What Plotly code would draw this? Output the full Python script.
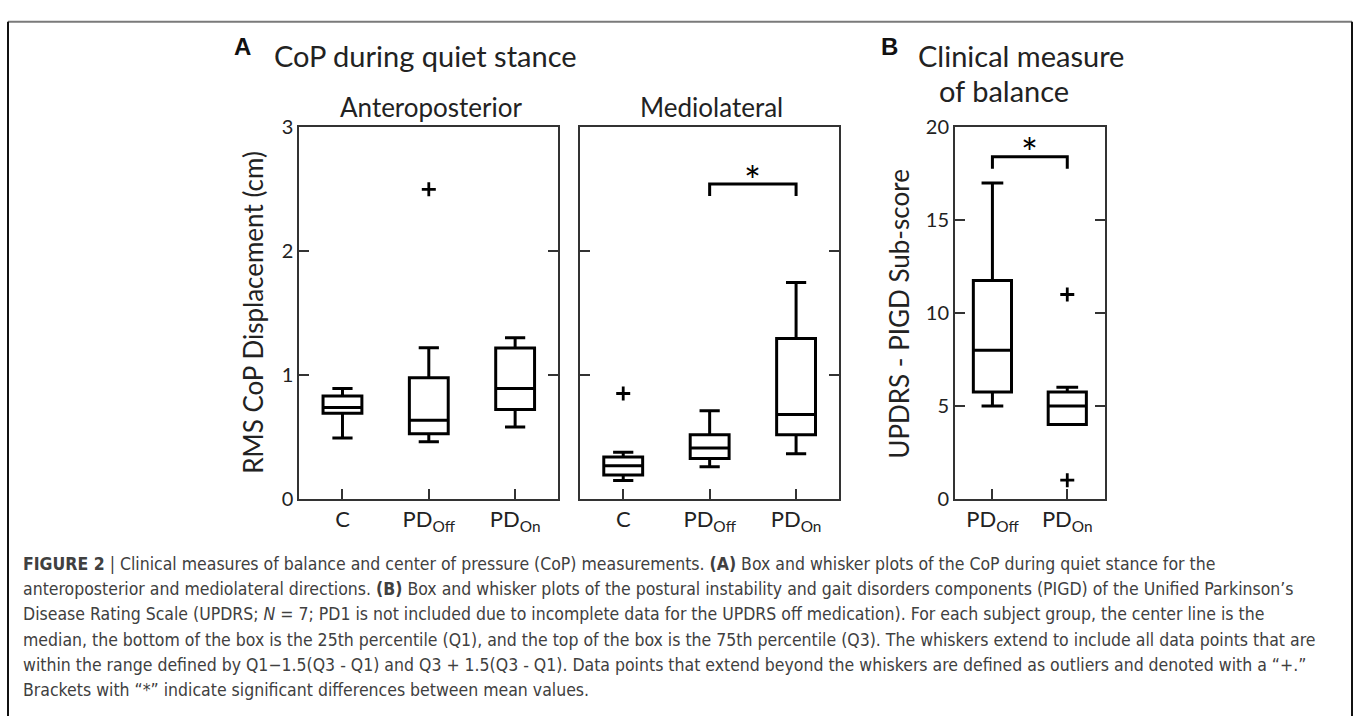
import plotly.graph_objects as go

# ---------------- data ----------------
# Panel A: RMS CoP displacement (cm), quiet stance
groups_a = [1, 2, 3]
group_labels_a = ["C", "PD<sub>Off</sub>", "PD<sub>On</sub>"]

ap_lower = [0.49, 0.46, 0.58]
ap_q1 = [0.69, 0.525, 0.72]
ap_median = [0.737, 0.634, 0.89]
ap_q3 = [0.83, 0.977, 1.218]
ap_upper = [0.89, 1.22, 1.30]
ap_outlier_x = [2]
ap_outlier_y = [2.5]

ml_lower = [0.147, 0.258, 0.363]
ml_q1 = [0.192, 0.324, 0.517]
ml_median = [0.266, 0.41, 0.68]
ml_q3 = [0.337, 0.516, 1.294]
ml_upper = [0.376, 0.71, 1.746]
ml_outlier_x = [1]
ml_outlier_y = [0.85]

# Panel B: UPDRS PIGD sub-score
groups_b = [1, 2]
group_labels_b = ["PD<sub>Off</sub>", "PD<sub>On</sub>"]
pigd_lower = [5, 4]
pigd_q1 = [5.75, 4]
pigd_median = [8, 5]
pigd_q3 = [11.75, 5.75]
pigd_upper = [17, 6]
pigd_outlier_x = [2, 2]
pigd_outlier_y = [11, 1]

# significance brackets (group pair, bar level, leg end)
ml_bracket_x = [2, 2, 3, 3]
ml_bracket_y = [2.445, 2.543, 2.543, 2.445]
ml_star_y = 2.57
pigd_bracket_x = [1, 1, 2, 2]
pigd_bracket_y = [17.77, 18.42, 18.42, 17.77]
pigd_star_y = 18.6

caption_lines = [
    "<b>FIGURE 2</b> | Clinical measures of balance and center of pressure (CoP) measurements. <b>(A)</b> Box and whisker plots of the CoP during quiet stance for the",
    "anteroposterior and mediolateral directions. <b>(B)</b> Box and whisker plots of the postural instability and gait disorders components (PIGD) of the Unified Parkinson\u2019s",
    "Disease Rating Scale (UPDRS; <i>N</i> = 7; PD1 is not included due to incomplete data for the UPDRS off medication). For each subject group, the center line is the",
    "median, the bottom of the box is the 25th percentile (Q1), and the top of the box is the 75th percentile (Q3). The whiskers extend to include all data points that are",
    "within the range defined by Q1\u22121.5(Q3 - Q1) and Q3 + 1.5(Q3 - Q1). Data points that extend beyond the whiskers are defined as outliers and denoted with a \u201c+.\u201d",
    "Brackets with \u201c*\u201d indicate significant differences between mean values.",
]

# ---------------- layout helpers ----------------
W, H = 1354, 727


def fx(px):
    return px / W


def fy(py):
    return 1 - py / H


PLOT_FONT = "Lato, 'Open Sans', sans-serif"
CAP_FONT = "'Liberation Sans Narrow', 'DejaVu Sans Condensed', 'Roboto', sans-serif"
FRAME = "#333333"
TXT = "#222222"

fig = go.Figure()


def add_boxes(x, lo, q1, med, q3, hi, xa, ya, width, wwidth):
    fig.add_trace(go.Box(
        x=x, lowerfence=lo, q1=q1, median=med, q3=q3, upperfence=hi,
        xaxis=xa, yaxis=ya, width=width, whiskerwidth=wwidth,
        boxpoints=False, fillcolor="rgba(0,0,0,0)",
        line=dict(color="black", width=3), showlegend=False,
        hoverinfo="skip",
    ))


def add_outliers(x, y, xa, ya):
    fig.add_trace(go.Scatter(
        x=x, y=y, xaxis=xa, yaxis=ya, mode="markers",
        marker=dict(symbol="cross-thin", size=10,
                    line=dict(color="black", width=2.8)),
        showlegend=False, hoverinfo="skip",
    ))


def add_bracket(x, y, xa, ya):
    fig.add_trace(go.Scatter(
        x=x, y=y, xaxis=xa, yaxis=ya, mode="lines",
        line=dict(color="black", width=3),
        showlegend=False, hoverinfo="skip",
    ))


add_boxes(groups_a, ap_lower, ap_q1, ap_median, ap_q3, ap_upper, "x", "y", 0.45, 0.52)
add_outliers(ap_outlier_x, ap_outlier_y, "x", "y")

add_boxes(groups_a, ml_lower, ml_q1, ml_median, ml_q3, ml_upper, "x2", "y2", 0.45, 0.52)
add_outliers(ml_outlier_x, ml_outlier_y, "x2", "y2")
add_bracket(ml_bracket_x, ml_bracket_y, "x2", "y2")

add_boxes(groups_b, pigd_lower, pigd_q1, pigd_median, pigd_q3, pigd_upper, "x3", "y3", 0.51, 0.57)
add_outliers(pigd_outlier_x, pigd_outlier_y, "x3", "y3")
add_bracket(pigd_bracket_x, pigd_bracket_y, "x3", "y3")

axis_common = dict(
    showline=True, linecolor=FRAME, linewidth=2,
    ticks="inside", ticklen=10, tickwidth=2, tickcolor=FRAME,
    showgrid=False, zeroline=False, fixedrange=True,
    tickfont=dict(family=PLOT_FONT, size=22, color=TXT),
)
ytick_font = dict(family=PLOT_FONT, size=20, color=TXT)

top, bottom = fy(118.3), fy(502.3)

fig.update_layout(
    width=W, height=H,
    margin=dict(l=0, r=0, t=0, b=0),
    paper_bgcolor="white", plot_bgcolor="white",
    xaxis=dict(domain=[fx(299.3), fx(558.3)], range=[0.5, 3.5],
               tickvals=groups_a, ticktext=group_labels_a, mirror=True,
               anchor="y", **axis_common),
    yaxis=dict(domain=[bottom, top], range=[0, 3], tickvals=[0, 1, 2, 3],
               mirror="ticks", anchor="x",
               **{**axis_common, "tickfont": ytick_font}),
    xaxis2=dict(domain=[fx(580), fx(839.3)], range=[0.5, 3.5],
                tickvals=groups_a, ticktext=group_labels_a, mirror=True,
                anchor="y2", **axis_common),
    yaxis2=dict(domain=[bottom, top], range=[0, 3], tickvals=[0, 1, 2, 3],
                mirror="ticks", anchor="x2", showticklabels=False,
                **axis_common),
    xaxis3=dict(domain=[fx(955), fx(1104.7)], range=[0.5, 2.5],
                tickvals=groups_b, ticktext=group_labels_b, mirror=True,
                anchor="y3", **axis_common),
    yaxis3=dict(domain=[bottom, top], range=[0, 20], tickvals=[0, 5, 10, 15, 20],
                mirror="ticks", anchor="x3",
                **{**axis_common, "tickfont": ytick_font}),
)

ann = []


def text(x, y, s, size, family=PLOT_FONT, color=TXT, xanchor="left",
         yanchor="middle", angle=0):
    ann.append(dict(x=fx(x), y=fy(y), xref="paper", yref="paper", text=s,
                    showarrow=False, xanchor=xanchor, yanchor=yanchor,
                    textangle=angle, font=dict(family=family, size=size, color=color)))


# panel letters and headings
LETTER_FONT = "'Liberation Sans', Arial, sans-serif"
text(232, 35, "<b>A</b>", 24, family=LETTER_FONT, color="#111")
text(272, 44, "CoP during quiet stance", 29)
text(879, 35, "<b>B</b>", 24, family=LETTER_FONT, color="#111")
text(916, 44, "Clinical measure", 29)
text(937, 80, "of balance", 29)

# subplot headings
text(431, 97, "Anteroposterior", 26, xanchor="center")
text(711, 97, "Mediolateral", 26, xanchor="center")

# axis titles
text(253, 310, "RMS CoP Displacement (cm)", 26, xanchor="center", angle=-90)
text(899, 311, "UPDRS - PIGD Sub-score", 26, xanchor="center", angle=-90)

# significance stars
for xa, ya, xs, ys in (("x2", "y2", 2.5, ml_star_y), ("x3", "y3", 1.5, pigd_star_y)):
    ann.append(dict(x=xs, y=ys, xref=xa, yref=ya, text="*", showarrow=False,
                    xanchor="center", yanchor="middle",
                    font=dict(family=PLOT_FONT, size=40, color="black")))

# caption
for i, line in enumerate(caption_lines):
    text(21, 570 + 26 * i, line, 17.5, family=CAP_FONT, color="#404040")

fig.update_layout(annotations=ann)

# figure frame
fig.update_layout(shapes=[
    dict(type="line", xref="paper", yref="paper", x0=fx(8), x1=fx(1352),
         y0=fy(9), y1=fy(9), line=dict(color="#7a7a7a", width=2)),
    dict(type="line", xref="paper", yref="paper", x0=fx(8), x1=fx(8),
         y0=fy(9), y1=0, line=dict(color="#111", width=2)),
    dict(type="line", xref="paper", yref="paper", x0=fx(1352), x1=fx(1352),
         y0=fy(9), y1=0, line=dict(color="#111", width=2)),
])

fig.write_html("out.html")
